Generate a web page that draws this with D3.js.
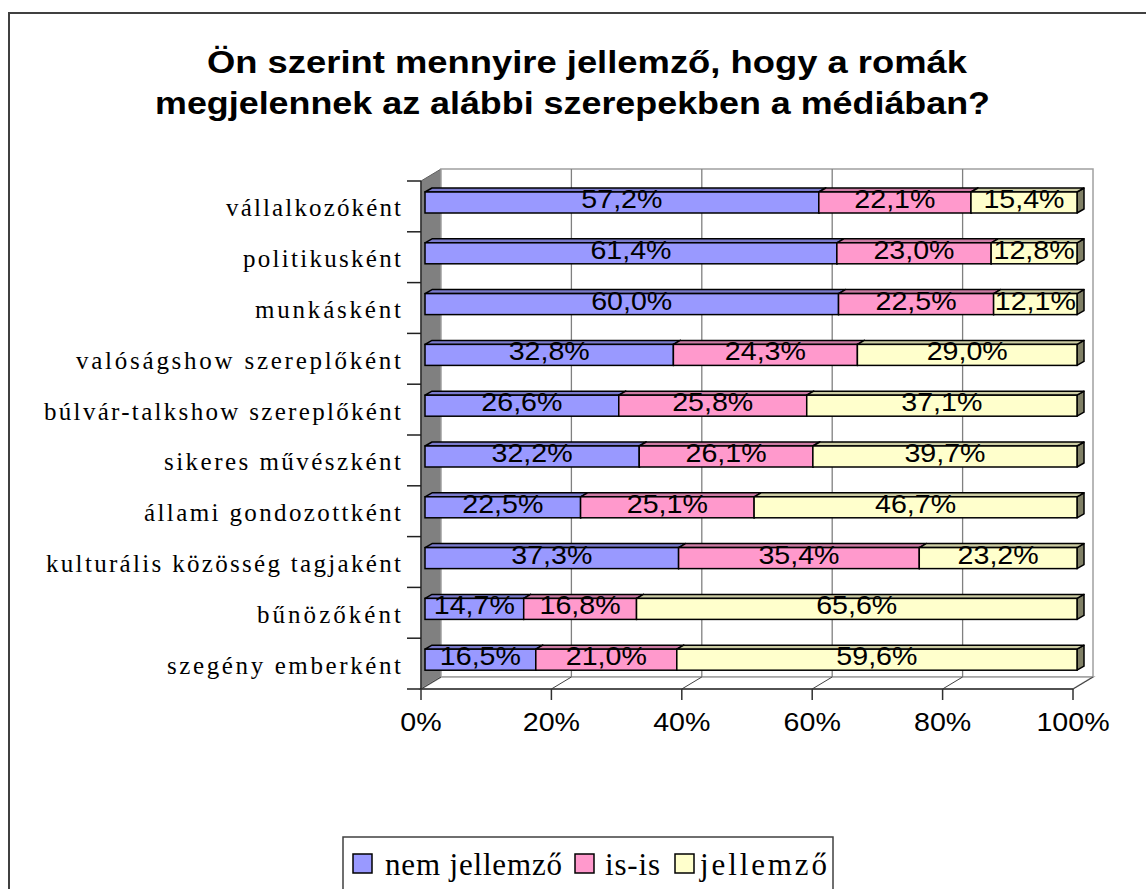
<!DOCTYPE html>
<html>
<head>
<meta charset="utf-8">
<script src="https://cdn.jsdelivr.net/npm/d3@7"></script>
<style>
  html, body { margin: 0; padding: 0; background: #fff; }
  svg { display: block; }
</style>
</head>
<body>
<svg id="chart" width="1146" height="889"></svg>
<script>
// ---- data ----
const categories = [
  "vállalkozóként",
  "politikusként",
  "munkásként",
  "valóságshow szereplőként",
  "búlvár-talkshow szereplőként",
  "sikeres művészként",
  "állami gondozottként",
  "kulturális közösség tagjaként",
  "bűnözőként",
  "szegény emberként"
];
const seriesNames = ["nem jellemző", "is-is", "jellemző"];
const nemJellemzo = [57.2, 61.4, 60.0, 32.8, 26.6, 32.2, 22.5, 37.3, 14.7, 16.5];
const isIs        = [22.1, 23.0, 22.5, 24.3, 25.8, 26.1, 25.1, 35.4, 16.8, 21.0];
const jellemzo    = [15.4, 12.8, 12.1, 29.0, 37.1, 39.7, 46.7, 23.2, 65.6, 59.6];
const xTicks = [0, 20, 40, 60, 80, 100];
const titleLines = [
  "Ön szerint mennyire jellemző, hogy a romák",
  "megjelennek az alábbi szerepekben a médiában?"
];

// ---- layout / style ----
const colors = {
  front: ["#9999ff", "#ff99cc", "#ffffcc"],
  top:   ["#7a7acc", "#cc7aa3", "#cccca3"],
  side:  ["#5c5c99", "#995c7a", "#808066"]
};
const catLabelLeft = [226, 243, 255, 76, 44, 164, 144, 46, 257, 167];
const catLabelRight = 401;

const svg = d3.select("#chart");
const W = 1146, H = 889;

// outer frame
svg.append("rect").attr("x", 9).attr("y", 13).attr("width", W + 20).attr("height", H + 20)
  .attr("fill", "#fff").attr("stroke", "#404040").attr("stroke-width", 2);

// title
const titleG = svg.append("g");
const titleStart = [207, 155], titleEnd = [967, 990], titleBase = [73, 114];
titleLines.forEach((t, i) => {
  titleG.append("text").attr("x", titleStart[i]).attr("y", titleBase[i])
    .attr("font-family", "Liberation Sans, Arial, sans-serif")
    .attr("font-weight", "bold").attr("font-size", 31)
    .attr("textLength", titleEnd[i] - titleStart[i])
    .attr("lengthAdjust", "spacingAndGlyphs")
    .text(t);
});

// scales
const x = d3.scaleLinear().domain([0, 100]).range([421, 1073]);
const y = d3.scaleBand().domain(categories).range([181, 689]).paddingInner(0).paddingOuter(0);
const DX = 20, DY = -12;          // box depth
const floorY = 689, topY = 181;

// left wall
svg.append("polygon")
  .attr("points", [[x(0), topY], [x(0) + DX, topY + DY], [x(0) + DX, floorY + DY], [x(0), floorY]].join(" "))
  .attr("fill", "#808080").attr("stroke", "#606060").attr("stroke-width", 1);
// back wall
svg.append("rect").attr("x", x(0) + DX).attr("y", topY + DY)
  .attr("width", x(100) - x(0)).attr("height", floorY - topY)
  .attr("fill", "#fff").attr("stroke", "#a0a0a0").attr("stroke-width", 1.5);
// floor
svg.append("polygon")
  .attr("points", [[x(0), floorY], [x(0) + DX, floorY + DY], [x(100) + DX, floorY + DY], [x(100), floorY]].join(" "))
  .attr("fill", "#fff").attr("stroke", "#a0a0a0").attr("stroke-width", 1.5);
// gridlines on back wall + floor
xTicks.slice(1, -1).forEach(t => {
  svg.append("line").attr("x1", x(t) + DX).attr("x2", x(t) + DX)
    .attr("y1", topY + DY).attr("y2", floorY + DY)
    .attr("stroke", "#808080").attr("stroke-width", 1.3);
});
xTicks.forEach(t => {
  svg.append("line").attr("x1", x(t)).attr("x2", x(t) + DX)
    .attr("y1", floorY).attr("y2", floorY + DY)
    .attr("stroke", "#404040").attr("stroke-width", 1);
});

// axes
const yAxisG = svg.append("g");
yAxisG.append("line").attr("x1", x(0)).attr("x2", x(0)).attr("y1", topY).attr("y2", floorY)
  .attr("stroke", "#303030").attr("stroke-width", 1.5);
const bandEdges = categories.map(c => y(c)).concat([floorY]);
bandEdges.forEach(e => {
  yAxisG.append("line").attr("x1", x(0) - 14).attr("x2", x(0)).attr("y1", e).attr("y2", e)
    .attr("stroke", "#202020").attr("stroke-width", 1.5);
});
categories.forEach((c, i) => {
  yAxisG.append("text")
    .attr("x", catLabelLeft[i]).attr("y", y(c) + y.bandwidth() / 2 + 10)
    .attr("font-family", "Liberation Serif, Times New Roman, serif")
    .attr("font-size", 25)
    .attr("textLength", catLabelRight - catLabelLeft[i])
    .attr("lengthAdjust", "spacing")
    .attr("fill", "#000")
    .text(c);
});

const xAxisG = svg.append("g");
xAxisG.append("line").attr("x1", x(0)).attr("x2", x(100)).attr("y1", floorY).attr("y2", floorY)
  .attr("stroke", "#303030").attr("stroke-width", 1.5);
xTicks.forEach(t => {
  xAxisG.append("line").attr("x1", x(t)).attr("x2", x(t)).attr("y1", floorY).attr("y2", floorY + 11)
    .attr("stroke", "#303030").attr("stroke-width", 1.5);
  xAxisG.append("text")
    .attr("transform", `translate(${x(t)},${floorY + 42}) scale(1.1,1)`)
    .attr("text-anchor", "middle")
    .attr("font-family", "Liberation Sans, Arial, sans-serif")
    .attr("font-size", 26)
    .text(t + "%");
});

// bars (percent-stacked)
const series = [nemJellemzo, isIs, jellemzo];
const fmt = v => d3.format(".1f")(v).replace(".", ",") + "%";
const bx = 4, bdx = 7, bdy = -4, barOff = 11, barH = 21;
const barsG = svg.append("g");
categories.forEach((c, i) => {
  const total = series.reduce((s, arr) => s + arr[i], 0);
  let cum = 0;
  const top = y(c) + barOff, bot = top + barH;
  series.forEach((arr, k) => {
    const v0 = cum / total * 100;
    cum += arr[i];
    const v1 = cum / total * 100;
    const x0 = x(v0) + bx, x1 = x(v1) + bx;
    const g = barsG.append("g");
    g.append("polygon")
      .attr("points", [[x1, top], [x1 + bdx, top + bdy], [x1 + bdx, bot + bdy], [x1, bot]].join(" "))
      .attr("fill", colors.side[k]).attr("stroke", "#000").attr("stroke-width", 1.5).attr("stroke-linejoin", "round");
    g.append("polygon")
      .attr("points", [[x0, top], [x0 + bdx, top + bdy], [x1 + bdx, top + bdy], [x1, top]].join(" "))
      .attr("fill", colors.top[k]).attr("stroke", "#000").attr("stroke-width", 1.5).attr("stroke-linejoin", "round");
    g.append("rect").attr("x", x0).attr("y", top).attr("width", x1 - x0).attr("height", barH)
      .attr("fill", colors.front[k]).attr("stroke", "#000").attr("stroke-width", 1.5);
  });
  cum = 0;
  series.forEach((arr, k) => {
    const v0 = cum / total * 100;
    cum += arr[i];
    const v1 = cum / total * 100;
    const cx = (x(v0) + x(v1)) / 2 + bx;
    barsG.append("text")
      .attr("transform", `translate(${cx},${bot - 5}) scale(1.1,1)`)
      .attr("text-anchor", "middle")
      .attr("font-family", "Liberation Sans, Arial, sans-serif")
      .attr("font-size", 26)
      .attr("fill", "#000")
      .text(fmt(arr[i]));
  });
});

// legend
const legG = svg.append("g");
legG.append("rect").attr("x", 343).attr("y", 837).attr("width", 490).attr("height", 70)
  .attr("fill", "#fff").attr("stroke", "#404040").attr("stroke-width", 1.5);
const legSq = [353, 575, 675];
const legTxt = [[385, 562], [605, 660], [700, 827]];
seriesNames.forEach((n, k) => {
  legG.append("rect").attr("x", legSq[k]).attr("y", 854).attr("width", 19).attr("height", 19)
    .attr("fill", colors.front[k]).attr("stroke", "#000").attr("stroke-width", 1.5);
  legG.append("text").attr("x", legTxt[k][0]).attr("y", 875)
    .attr("font-family", "Liberation Serif, Times New Roman, serif")
    .attr("font-size", 31)
    .attr("textLength", legTxt[k][1] - legTxt[k][0])
    .attr("lengthAdjust", "spacing")
    .text(n);
});
</script>
</body>
</html>
